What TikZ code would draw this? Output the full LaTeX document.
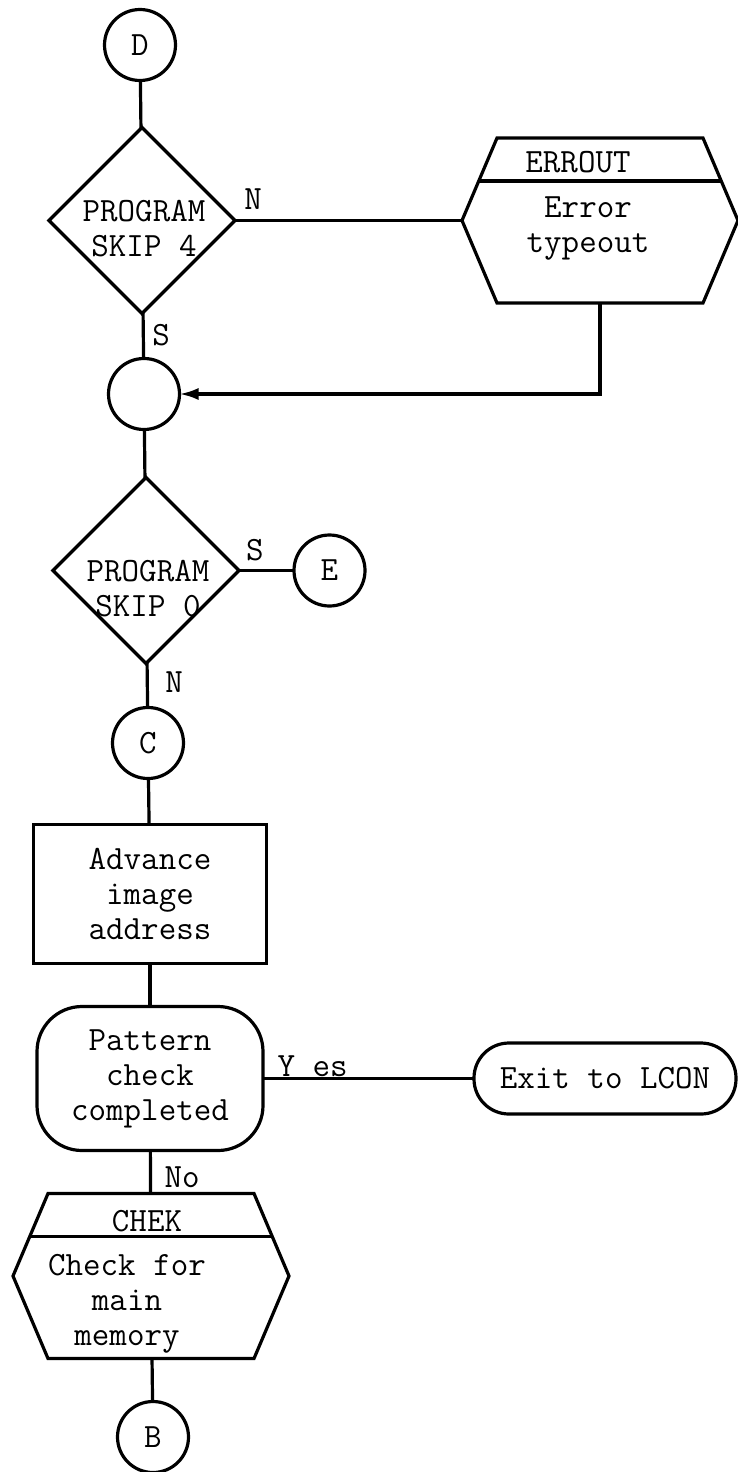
\documentclass[tikz,border=0pt]{standalone}
\usepackage{fontspec}
\usetikzlibrary{positioning,shapes.geometric,calc,arrows.meta}

\tikzset{
  conn/.style={circle, draw, minimum size=71pt, inner sep=0pt, outer sep=0pt},
  decision/.style={diamond, draw, aspect=1, minimum size=186pt, inner sep=0pt, outer sep=0pt},
  process/.style={rectangle, draw, minimum width=233pt, minimum height=139pt, inner sep=0pt, outer sep=0pt, align=center},
  roundbox/.style={rectangle, draw, rounded corners=45pt, minimum width=226pt, minimum height=144pt, inner sep=0pt, outer sep=0pt, align=center},
  endcap/.style={rectangle, draw, rounded corners=35pt, minimum width=262pt, minimum height=71pt, inner sep=0pt, outer sep=0pt},
  subr/.style={rectangle, minimum width=276pt, minimum height=165pt, inner sep=0pt, outer sep=0pt},
  tag/.style={inner sep=0pt, outer sep=0pt, align=center},
  flow/.style={-{Latex[length=19pt, width=12pt]}}
}

\newcommand{\subrframe}[1]{%
  \draw ($(#1.north west)+(35pt,0pt)$) -- ($(#1.north east)+(-35pt,0pt)$) -- (#1.east)
    -- ($(#1.south east)+(-35pt,0pt)$) -- ($(#1.south west)+(35pt,0pt)$) -- (#1.west) -- cycle;
  \draw ($(#1.north west)+(17pt,-43pt)$) -- ($(#1.north east)+(-17pt,-43pt)$);}

\begin{document}
\begin{tikzpicture}[line width=3.2pt, font=\ttfamily\fontsize{34}{35}\selectfont]
    \useasboundingbox (0pt,0pt) rectangle (738pt,-1472pt);
    \node[conn]                                     (d)      at (140pt,-45pt) {D};
    \node[decision, below=47pt of d, xshift=2pt]    (skip4)  {};
    \node[subr, right=227pt of skip4]               (errout) {};
    \node[conn, below=45pt of skip4, xshift=2pt]    (join)   {};
    \node[decision, below=48pt of join, xshift=2pt] (skip0)  {};
    \node[conn, right=55pt of skip0]                (e)      {E};
    \node[conn, below=44pt of skip0, xshift=2pt]    (c)      {C};
    \node[process, below=46pt of c, xshift=2pt]     (adv)    {Advance\\image\\address};
    \node[roundbox, below=43pt of adv]              (pat)    {Pattern\\check\\completed};
    \node[endcap, right=211pt of pat]               (exit)   {Exit to LCON};
    \node[subr, below=43pt of pat, xshift=1pt]      (chek)   {};
    \node[conn, below=43pt of chek, xshift=2pt]     (b)      {B};
    \node[tag] (skip4txt) at ($(skip4)+(2pt,-8pt)$)  {PROGRAM\\SKIP 4};
    \node[tag] (skip0txt) at ($(skip0)+(2pt,-18pt)$) {PROGRAM\\SKIP 0};
    \subrframe{errout}
    \node[tag] (errname)  at ($(errout.north)+(-22pt,-24pt)$) {ERROUT};
    \node[tag] (errtxt)   at ($(errout)+(-12pt,-8pt)$)        {Error\\typeout};
    \subrframe{chek}
    \node[tag] (chekname) at ($(chek.north)+(-4pt,-28pt)$)    {CHEK};
    \node[tag] (chektxt)  at ($(chek)+(-24pt,-28pt)$)         {Check for\\main\\memory};
    \draw (d) -- (skip4);
    \draw (skip4) -- node[tag, above=11pt, pos=0.08] {N} (errout);
    \draw (skip4) -- node[tag, right=9pt] {S} (join);
    \draw[flow] (errout.south) |- (join);
    \draw (join) -- (skip0);
    \draw (skip0) -- node[tag, above=10pt, pos=0.29] {S} (e);
    \draw (skip0) -- node[tag, right=18pt, pos=0.43] {N} (c);
    \draw (c) -- (adv);
    \draw (adv) -- (pat);
    \draw (pat) -- node[tag, above=2pt, pos=0.235] {Y es} (exit);
    \draw (pat) -- node[tag, right=14pt, pos=0.63] {No} (chek);
    \draw (chek) -- (b);
\end{tikzpicture}
\end{document}
